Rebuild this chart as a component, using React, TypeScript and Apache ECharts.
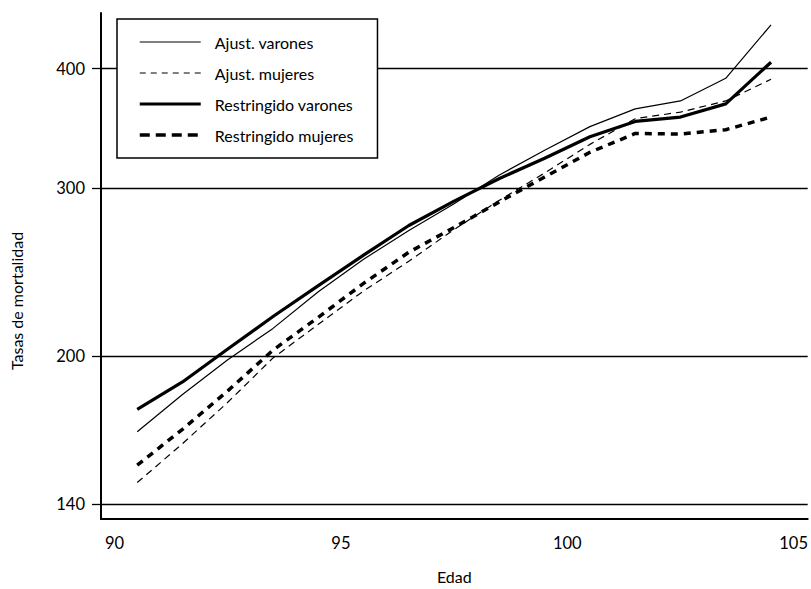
import { useEffect, useRef } from "react";
import * as echarts from "echarts";

const ages = [90.5, 91.5, 92.5, 93.5, 94.5, 95.5, 96.5, 97.5, 98.5, 99.5, 100.5, 101.5, 102.5, 103.5, 104.5];
const ajustVarones = [166.7, 182.4, 198.3, 213.9, 233.7, 252.7, 270.8, 288.9, 309.6, 328.6, 347.9, 363.1, 370.1, 390.9, 444.6];
const ajustMujeres = [147.5, 162.0, 179.0, 199.2, 216.0, 234.1, 251.5, 271.5, 291.3, 311.1, 333.3, 354.6, 360.3, 370.1, 389.9];
const restVarones = [176.0, 188.0, 203.5, 220.1, 237.1, 255.2, 274.1, 290.7, 307.0, 322.4, 339.5, 352.3, 356.0, 367.5, 406.3];
const restMujeres = [153.8, 167.7, 184.0, 203.0, 219.7, 238.4, 257.0, 272.8, 290.2, 308.1, 327.0, 342.2, 341.7, 345.3, 356.0];
const yTicks = [140, 200, 300, 400];
const xTicks = [90, 95, 100, 105];
const seriesNames = ["Ajust. varones", "Ajust. mujeres", "Restringido varones", "Restringido mujeres"];

const FONT = "Lato, 'Liberation Sans', sans-serif";

export default function App() {
  const ref = useRef<HTMLDivElement>(null);
  useEffect(() => {
    if (!ref.current) return;
    const chart = echarts.init(ref.current, undefined, { renderer: "svg" });
    const toPts = (vals: number[]) => ages.map((a, i) => [a, Math.log10(vals[i])]);
    const styles = [
      { width: 1.2, type: "solid" as any },
      { width: 1.2, type: [7, 5] as any },
      { width: 3.2, type: "solid" as any },
      { width: 3.5, type: [7, 6] as any },
    ];
    const legendStyles = [
      { width: 1.2, type: "solid" as any },
      { width: 1.2, type: [6, 5] as any },
      { width: 3.2, type: "solid" as any },
      { width: 3.5, type: [10, 6] as any },
    ];
    const datasets = [ajustVarones, ajustMujeres, restVarones, restMujeres];
    chart.setOption({
      animation: false,
      grid: { left: 101, right: 0, top: 13, bottom: 64 },
      legend: {
        orient: "vertical",
        left: 117,
        top: 19,
        padding: [15, 24, 15, 21],
        itemWidth: 61,
        itemHeight: 14,
        itemGap: 15,
        borderColor: "#000",
        borderWidth: 1.5,
        backgroundColor: "#fff",
        itemStyle: { opacity: 0, borderWidth: 0 },
        textStyle: { fontFamily: FONT, fontSize: 16, color: "#000", padding: [0, 0, 0, 9] },
        data: seriesNames.map((n, i) => ({
          name: n,
          lineStyle: { color: "#000", width: legendStyles[i].width, type: legendStyles[i].type },
        })),
      },
      xAxis: {
        type: "value",
        min: 89.7,
        max: 105.31,
        name: "Edad",
        nameLocation: "middle",
        nameGap: 49,
        nameTextStyle: { fontFamily: FONT, fontSize: 16, color: "#000" },
        axisLine: { show: true, lineStyle: { color: "#000", width: 2 } },
        axisTick: { show: false },
        splitLine: { show: false },
        axisLabel: {
          customValues: xTicks,
          margin: 15,
          fontFamily: FONT,
          fontSize: 16.5,
          color: "#000",
          formatter: (v: number) => String(v),
        },
      },
      yAxis: {
        type: "value",
        min: Math.log10(135.1),
        max: Math.log10(457.5),
        axisLine: { show: true, lineStyle: { color: "#000", width: 2 } },
        axisTick: {
          show: true,
          customValues: yTicks.map((t) => Math.log10(t)),
          length: 9,
          inside: false,
          lineStyle: { color: "#000", width: 1.3 },
        },
        splitLine: { show: true, lineStyle: { color: "#000", width: 1.3 } },
        axisLabel: {
          customValues: yTicks.map((t) => Math.log10(t)),
          margin: 16,
          fontFamily: FONT,
          fontSize: 16.5,
          color: "#000",
          formatter: (v: number) => String(Math.round(Math.pow(10, v))),
        },
      },
      graphic: [
        {
          type: "text",
          x: 16,
          y: 301,
          rotation: Math.PI / 2,
          style: {
            text: "Tasas de mortalidad",
            fontFamily: FONT,
            fontSize: 16,
            fill: "#000",
            align: "center",
            verticalAlign: "middle",
          },
        },
      ],
      series: datasets.map((d, i) => ({
        name: seriesNames[i],
        type: "line",
        data: toPts(d),
        symbol: "none",
        showSymbol: false,
        color: "#000",
        lineStyle: { color: "#000", width: styles[i].width, type: styles[i].type },
        z: 3,
      })),
    });
    return () => chart.dispose();
  }, []);
  return <div ref={ref} style={{ width: 811, height: 589, position: "absolute", left: 0, top: 0 }} />;
}
